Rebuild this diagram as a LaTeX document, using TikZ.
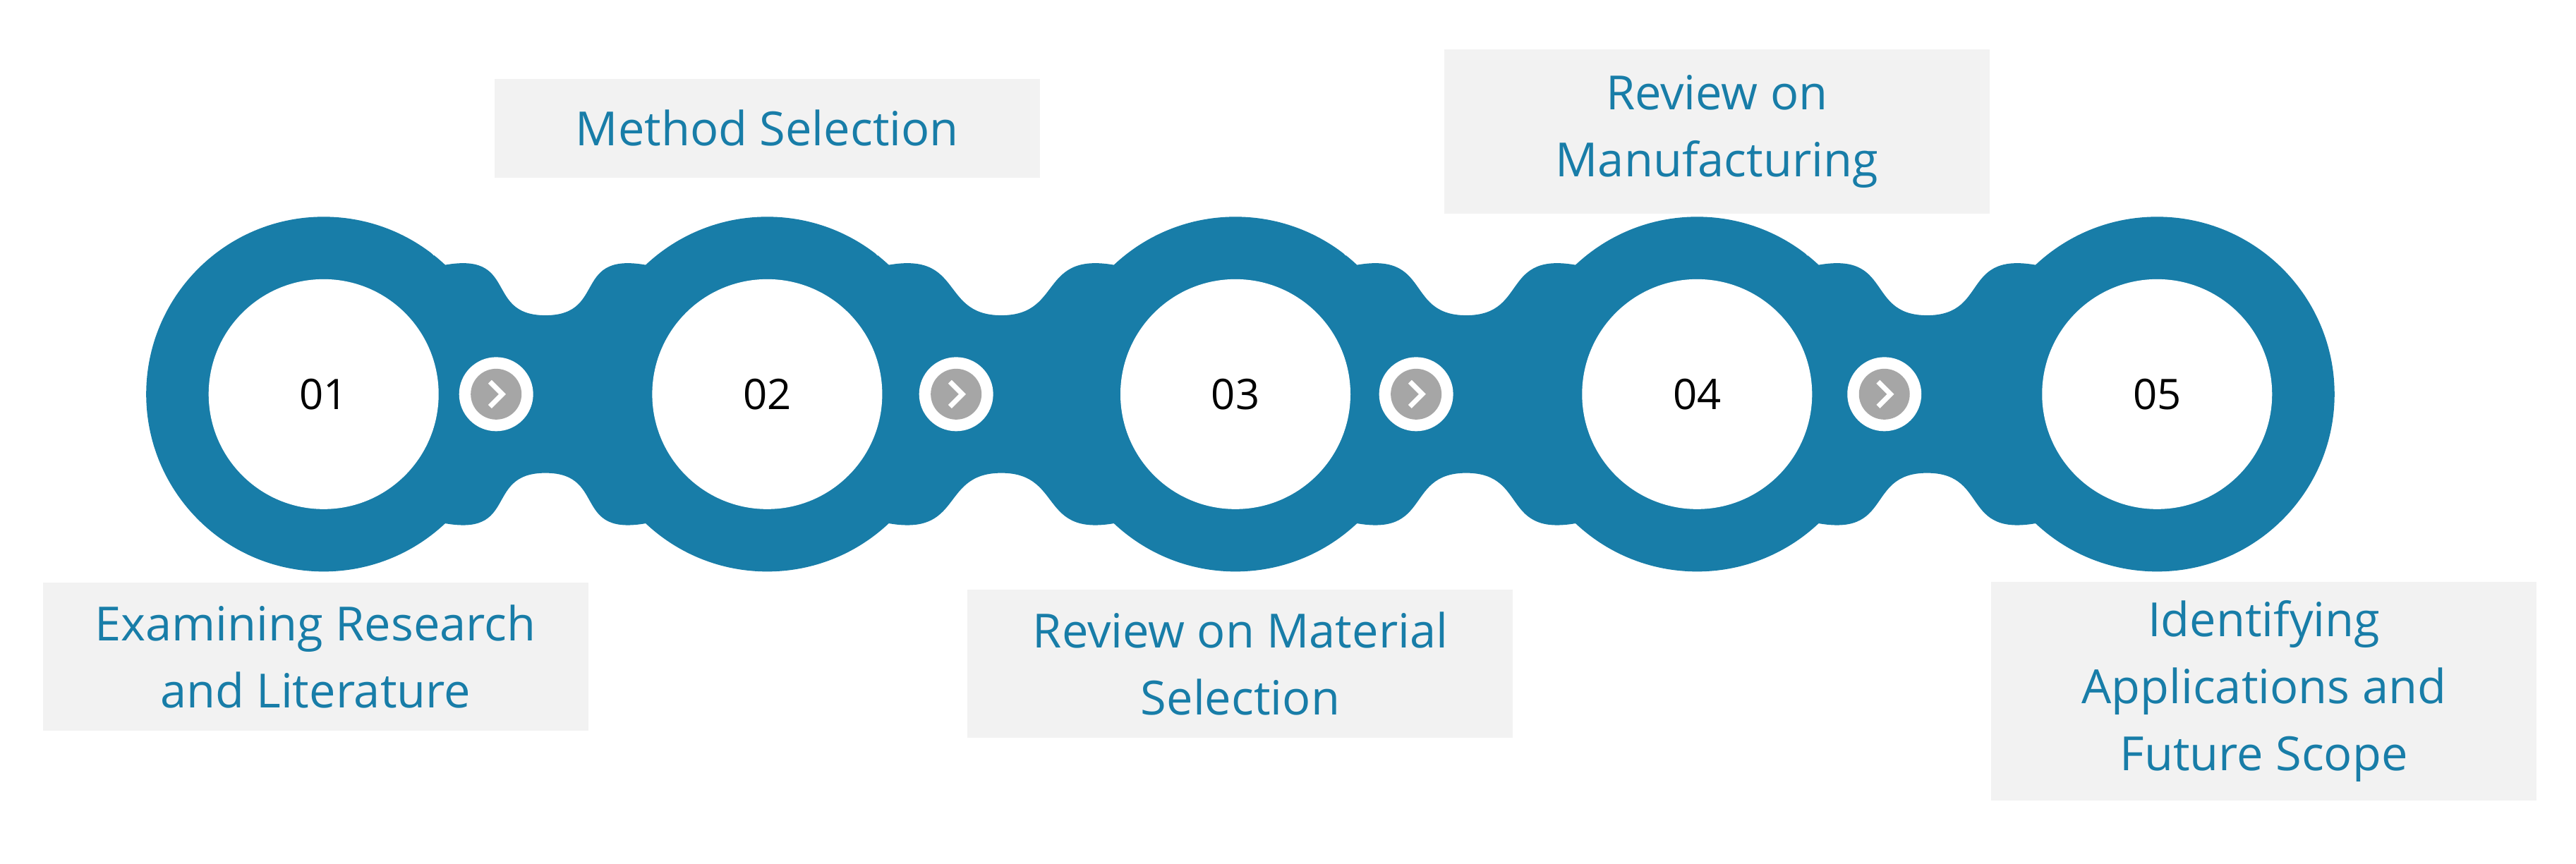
\documentclass[tikz,border=0pt]{standalone}
\usepackage{fontspec}
\setmainfont{Open Sans}
\usetikzlibrary{positioning,calc}
\definecolor{ringblue}{HTML}{187DA8}
\definecolor{boxgray}{HTML}{F2F2F2}
\definecolor{tipgray}{HTML}{A6A6A6}
\begin{document}
\begin{tikzpicture}[
  x=0.02328cm, y=-0.02328cm,
  ring/.style={circle, fill=ringblue, minimum size=5.03cm, inner sep=0pt},
  hole/.style={circle, fill=white, minimum size=3.26cm, inner sep=0pt,
    font=\fontsize{17}{20}\selectfont},
  stage/.style={fill=boxgray, text=ringblue, align=center, minimum width=7.73cm,
    font=\fontsize{19}{27}\selectfont},
  knob/.style={circle, fill=white, minimum size=1.05cm, inner sep=0pt},
  tip/.style={circle, fill=tipgray, minimum size=0.72cm, inner sep=0pt}
]
\useasboundingbox (0,0) rectangle (1568,526);

% rings
\foreach \n/\x in {1/197,2/467,3/752,4/1033,5/1313}
  \node[ring] (r\n) at (\x,240) {};

% necks between rings
\foreach \a/\b in {1/2,2/3,3/4,4/5}{
  \fill[ringblue] ([xshift=-8]r\a.45) .. controls ([xshift=30,yshift=10]r\a.45) and ($(r\a.center)!0.5!(r\b.center)+(-40,-48)$) .. ($(r\a.center)!0.5!(r\b.center)+(0,-48)$)
    .. controls ($(r\a.center)!0.5!(r\b.center)+(40,-48)$) and ([xshift=-30,yshift=10]r\b.135) .. ([xshift=8]r\b.135)
    -- ([xshift=8]r\b.-135)
    .. controls ([xshift=-30,yshift=-10]r\b.-135) and ($(r\a.center)!0.5!(r\b.center)+(40,48)$) .. ($(r\a.center)!0.5!(r\b.center)+(0,48)$)
    .. controls ($(r\a.center)!0.5!(r\b.center)+(-40,48)$) and ([xshift=30,yshift=-10]r\a.-45) .. ([xshift=-8]r\a.-45) -- cycle;
  \draw[white, line width=1.2pt] (r\a.center) ++(-52:108) arc[start angle=52, end angle=-52, radius=108];
}

% holes and numbers
\foreach \n/\t in {1/01,2/02,3/03,4/04,5/05}
  \node[hole] (h\n) at (r\n) {\t};

% arrow knobs
\foreach \a/\x in {1/302,2/582,3/862,4/1147}{
  \node[knob] (k\a) at (\x,240) {};
  \node[tip] (t\a) at (k\a) {};
  \draw[white, line width=2pt] ([xshift=-2.5,yshift=-5]t\a.center) -- ([xshift=2.5]t\a.center) -- ([xshift=-2.5,yshift=5]t\a.center);
}

% stage labels
\node[stage, minimum height=2.1cm] (s1) at (192,400) {Examining Research\\and Literature};
\node[stage, minimum height=1.4cm] (s2) at (467,78) {Method Selection};
\node[stage, minimum height=2.1cm] (s3) at (755,404) {Review on Material\\Selection};
\node[stage, minimum height=2.33cm] (s4) at (1045,80) {Review on\\Manufacturing};
\node[stage, minimum height=3.1cm] (s5) at (1378,421) {Identifying\\Applications and\\Future Scope};
\end{tikzpicture}
\end{document}
